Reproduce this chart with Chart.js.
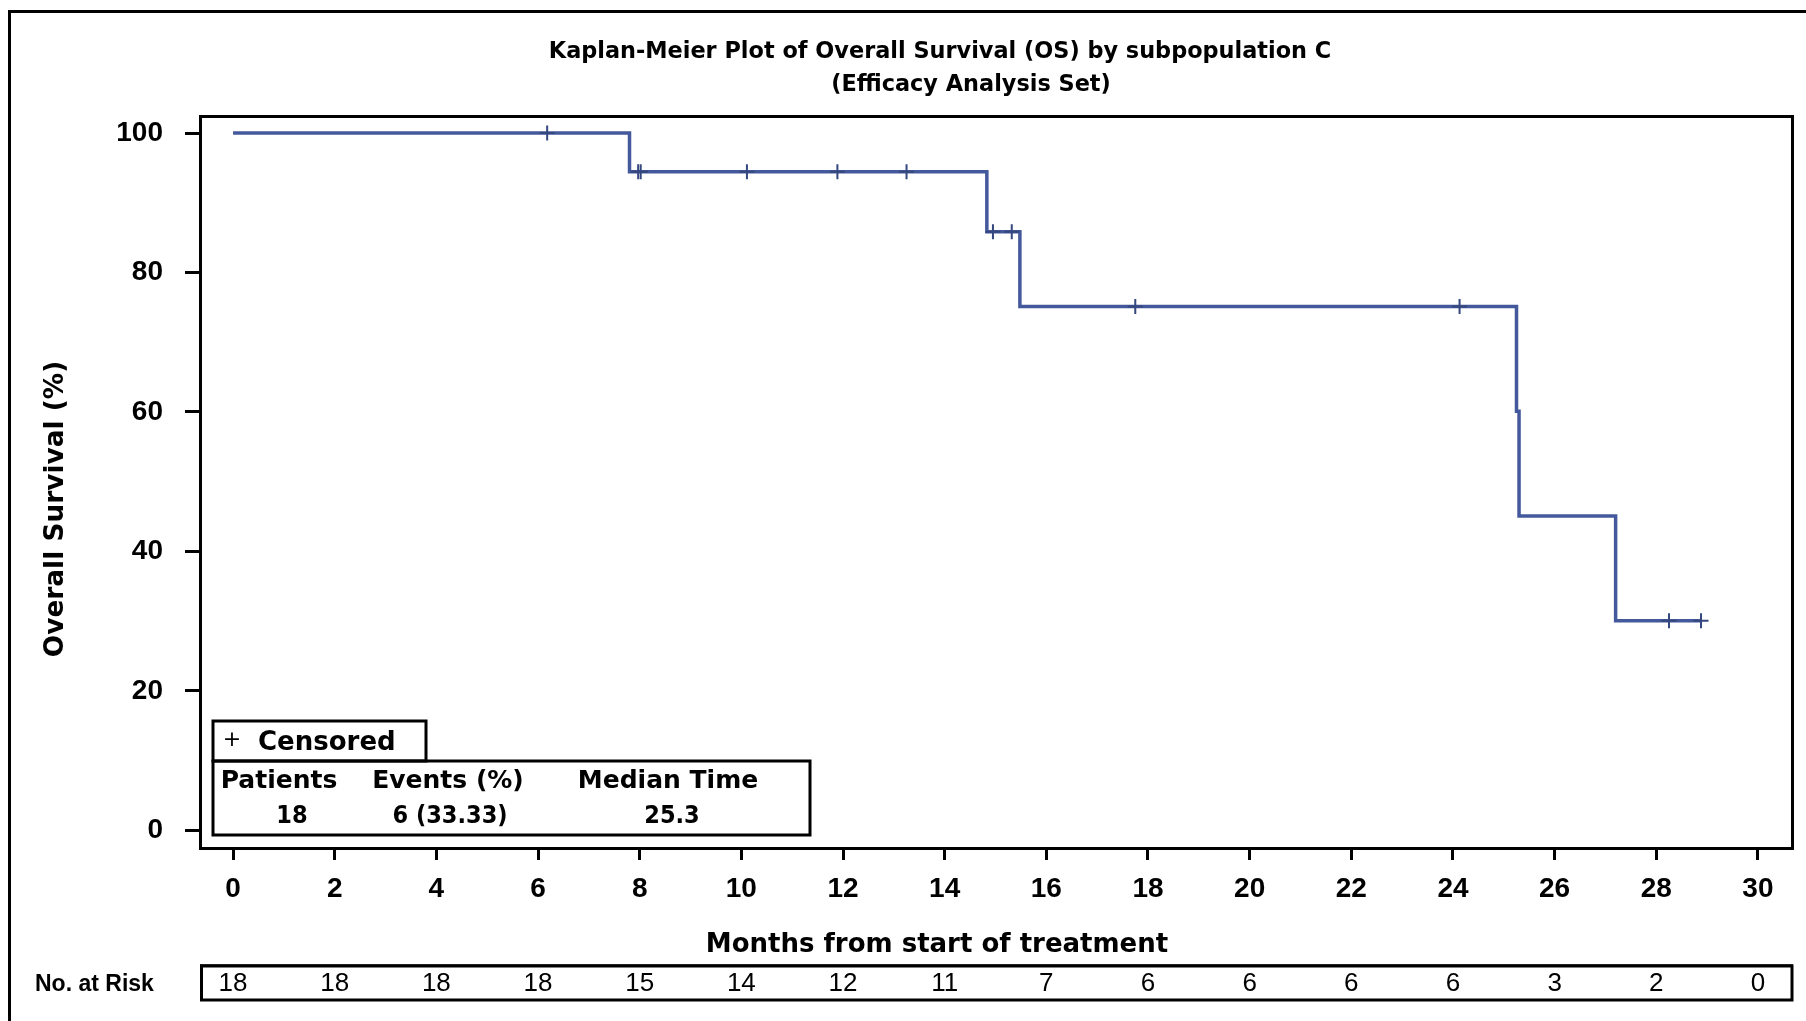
<!DOCTYPE html>
<html>
<head>
<meta charset="utf-8">
<title>Kaplan-Meier Plot of Overall Survival (OS) by subpopulation C</title>
<script src="https://cdn.jsdelivr.net/npm/chart.js@4.4.1/dist/chart.umd.min.js"></script>
<style>
  html, body { margin: 0; padding: 0; background: #ffffff; }
  #wrap { position: relative; width: 1806px; height: 1021px; }
  canvas { display: block; }
</style>
</head>
<body>
<div id="wrap"><canvas id="km" width="1806" height="1021"></canvas></div>
<script>
// Kaplan-Meier step points: event times (months) and survival (%) after each event
const eventMonths = [0, 7.8, 14.83, 15.48, 25.25, 25.3, 27.2, 28.88];
const survivalPct = [100, 94.44, 85.86, 75.13, 60.1, 45.08, 30.05, 30.05];

// Censored observations
const censorMonths = [6.18, 7.97, 8.02, 10.11, 11.89, 13.25, 14.95, 15.32, 17.75, 24.13, 28.25, 28.88];
const censorPct = [100, 94.44, 94.44, 94.44, 94.44, 94.44, 85.86, 85.86, 75.13, 75.13, 30.05, 30.05];

// Axis ticks
const xTicks = [0, 2, 4, 6, 8, 10, 12, 14, 16, 18, 20, 22, 24, 26, 28, 30];
const yTicks = [0, 20, 40, 60, 80, 100];

// Number at risk at each x tick
const riskMonths = [0, 2, 4, 6, 8, 10, 12, 14, 16, 18, 20, 22, 24, 26, 28, 30];
const atRisk = [18, 18, 18, 18, 15, 14, 12, 11, 7, 6, 6, 6, 6, 3, 2, 0];

// Summary statistics
const statHeaders = ['Patients', 'Events (%)', 'Median Time'];
const statValues = ['18', '6 (33.33)', '25.3'];

const titleLines = ['Kaplan-Meier Plot of Overall Survival (OS) by subpopulation C', '(Efficacy Analysis Set)'];
const xTitle = 'Months from start of treatment';
const yTitle = 'Overall Survival (%)';

const LINE_BLUE = '#44599b';
const MARK_BLUE = '#35477f';

const decorations = {
  id: 'decorations',
  afterDraw(chart) {
    const ctx = chart.ctx;
    const a = chart.chartArea;
    const xs = chart.scales.x;
    ctx.save();

    // outer frame (top and left edges)
    ctx.strokeStyle = '#000';
    ctx.lineWidth = 3;
    ctx.beginPath();
    ctx.moveTo(1806, 11.5);
    ctx.lineTo(9.5, 11.5);
    ctx.lineTo(9.5, 1021);
    ctx.stroke();

    // plot frame
    ctx.lineWidth = 3;
    ctx.strokeRect(a.left + 0.5, a.top + 0.5, a.right - a.left, a.bottom - a.top);

    // titles
    ctx.fillStyle = '#000';
    ctx.textAlign = 'center';
    ctx.textBaseline = 'middle';
    ctx.font = 'bold 22.4px "DejaVu Sans"';
    ctx.fillText(titleLines[0], 940, 52);
    ctx.fillText(titleLines[1], 971, 85);

    // axis titles
    ctx.font = 'bold 26px "DejaVu Sans"';
    ctx.fillText(xTitle, 937, 945);
    ctx.save();
    ctx.translate(56, 509);
    ctx.rotate(-Math.PI / 2);
    ctx.font = 'bold 26.4px "DejaVu Sans"';
    ctx.fillText(yTitle, 0, 0);
    ctx.restore();

    // legend: censored marker
    ctx.lineWidth = 3;
    ctx.strokeRect(213, 721, 213, 40);
    ctx.strokeRect(213, 761, 597, 74);
    ctx.font = '22px "DejaVu Sans"';
    ctx.fillText('+', 232, 740);
    ctx.textAlign = 'left';
    ctx.font = 'bold 26px "DejaVu Sans"';
    ctx.fillText('Censored', 258, 743);

    // summary statistics
    ctx.textAlign = 'center';
    ctx.font = 'bold 25px "DejaVu Sans"';
    const hx = [279, 448, 668];
    const vx = [292, 450, 672];
    statHeaders.forEach((t, i) => ctx.fillText(t, hx[i], 781));
    ctx.font = 'bold 25px "DejaVu Sans Condensed", "DejaVu Sans"';
    statValues.forEach((t, i) => ctx.fillText(t, vx[i], 816));

    // number at risk table
    ctx.textAlign = 'left';
    ctx.font = 'bold 23px "Liberation Sans"';
    ctx.fillText('No. at Risk', 35, 985);
    ctx.lineWidth = 3;
    ctx.strokeRect(201.5, 966, 1590.5, 34);
    ctx.lineWidth = 1.5;
    ctx.beginPath();
    ctx.moveTo(200, 965);
    ctx.lineTo(1793, 965);
    ctx.stroke();
    ctx.textAlign = 'center';
    ctx.font = '26px "Liberation Sans"';
    riskMonths.forEach((m, i) => {
      ctx.fillText(String(atRisk[i]), xs.getPixelForValue(m), 984);
    });

    ctx.restore();
  }
};

new Chart(document.getElementById('km'), {
  type: 'scatter',
  data: {
    datasets: [
      {
        label: 'Survival',
        data: eventMonths.map((t, i) => ({ x: t, y: survivalPct[i] })),
        showLine: true,
        stepped: 'before',
        borderColor: LINE_BLUE,
        borderWidth: 3.5,
        pointRadius: 0,
        fill: false,
        order: 2
      },
      {
        label: 'Censored',
        data: censorMonths.map((t, i) => ({ x: t, y: censorPct[i] })),
        showLine: false,
        pointStyle: 'cross',
        pointRadius: 7.5,
        pointBorderWidth: 2,
        pointBorderColor: MARK_BLUE,
        pointBackgroundColor: MARK_BLUE,
        order: 1
      }
    ]
  },
  options: {
    responsive: false,
    animation: false,
    devicePixelRatio: 1,
    layout: { padding: { left: 0, right: 14, top: 116, bottom: 113 } },
    plugins: {
      legend: { display: false },
      title: { display: false },
      tooltip: { enabled: false }
    },
    scales: {
      x: {
        type: 'linear',
        min: -0.65,
        max: 30.67,
        afterFit(scale) { scale.height = 60; },
        afterBuildTicks(scale) { scale.ticks = xTicks.map(v => ({ value: v })); },
        border: { display: false },
        grid: {
          drawOnChartArea: false,
          drawTicks: true,
          tickLength: 12,
          tickWidth: 3,
          tickColor: '#000'
        },
        ticks: {
          color: '#000',
          padding: 12,
          maxRotation: 0,
          autoSkip: false,
          font: { family: '"Liberation Sans"', weight: 'bold', size: 28 }
        }
      },
      y: {
        type: 'linear',
        min: -2.55,
        max: 102.45,
        afterFit(scale) { scale.width = 200; },
        afterBuildTicks(scale) { scale.ticks = yTicks.map(v => ({ value: v })); },
        border: { display: false },
        grid: {
          drawOnChartArea: false,
          drawTicks: true,
          tickLength: 15,
          tickWidth: 3,
          tickColor: '#000'
        },
        ticks: {
          color: '#000',
          padding: 22,
          autoSkip: false,
          font: { family: '"Liberation Sans"', weight: 'bold', size: 28 }
        }
      }
    }
  },
  plugins: [decorations]
});
</script>
</body>
</html>
